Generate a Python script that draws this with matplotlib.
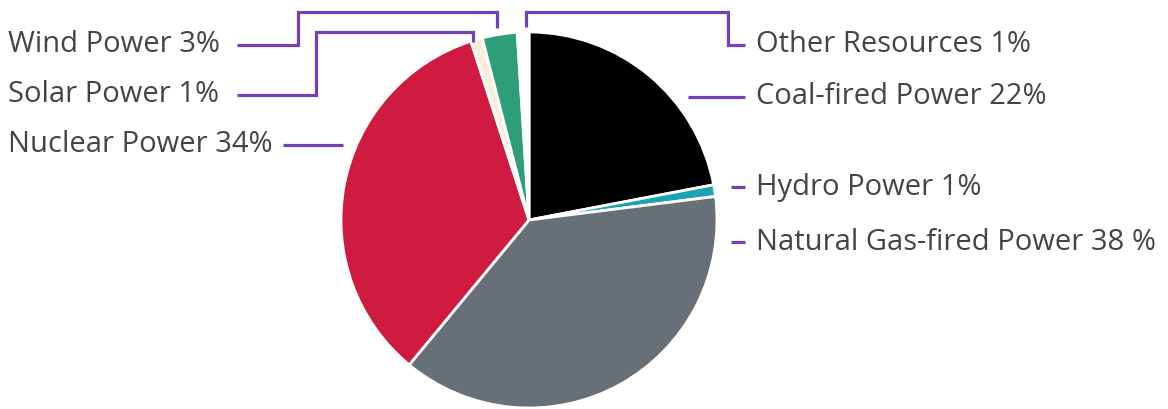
import matplotlib.pyplot as plt

labels = ["Coal-fired Power 22%", "Hydro Power 1%", "Natural Gas-fired Power 38 %",
          "Nuclear Power 34%", "Solar Power 1%", "Wind Power 3%", "Other Resources 1%"]
shares = [22, 1, 38, 34, 1, 3, 1]
colors = ["#000000", "#1aa3b2", "#677077", "#d01b40", "#f6eed5", "#2e9d79", "#ffffff"]

W, H = 1168, 409
fig = plt.figure(figsize=(W / 100, H / 100), dpi=100)
ax = fig.add_axes([0, 0, 1, 1])
ax.set_aspect("equal")

# pie in pixel coordinates (y measured from bottom)
cx, cy, r = 529, H - 220, 188
ax.pie(shares, colors=colors, startangle=90, counterclock=False,
       center=(cx, cy), radius=r, frame=True,
       wedgeprops=dict(edgecolor="white", linewidth=2))
ax.set_xlim(0, W)
ax.set_ylim(0, H)
ax.axis("off")

line_kw = dict(color="#7340b8", lw=2.3, solid_capstyle="butt", solid_joinstyle="miter")
txt_kw = dict(fontsize=21, color="#444444", family="Open Sans", va="center")

def y(p):
    return H - p

# left side labels
ax.plot([237, 298, 298, 497, 497], [y(45), y(45), y(12), y(12), y(28)], **line_kw)
ax.text(8, y(45), labels[5], ha="left", **txt_kw)
ax.plot([237, 316, 316, 473, 473], [y(95), y(95), y(32), y(32), y(42)], **line_kw)
ax.text(8, y(95), labels[4], ha="left", **txt_kw)
ax.plot([283, 343], [y(145), y(145)], **line_kw)
ax.text(8, y(145), labels[3], ha="left", **txt_kw)

# right side labels
ax.plot([526, 526, 728, 728, 745], [y(27), y(12), y(12), y(45), y(45)], **line_kw)
ax.text(756, y(45), labels[6], ha="left", **txt_kw)
ax.plot([688, 745], [y(97), y(97)], **line_kw)
ax.text(756, y(97), labels[0], ha="left", **txt_kw)
ax.plot([731, 745], [y(187), y(187)], **line_kw)
ax.text(756, y(187), labels[1], ha="left", **txt_kw)
ax.plot([731, 745], [y(242), y(242)], **line_kw)
ax.text(756, y(242), labels[2], ha="left", **txt_kw)

fig.savefig("out.png", dpi=100, facecolor="white")
